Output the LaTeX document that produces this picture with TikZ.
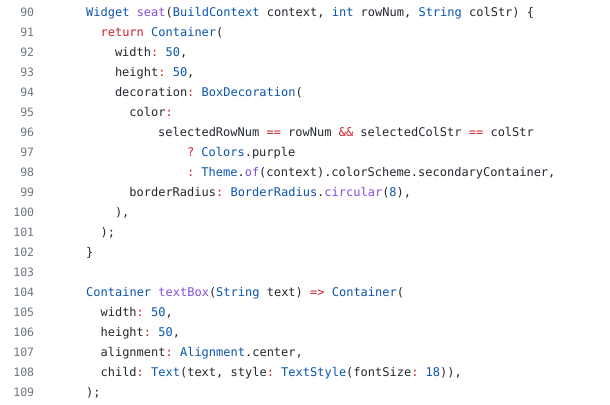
\documentclass[tikz,border=0pt]{standalone}
\usepackage{fontspec}
\newfontfamily\codefont{DejaVu Sans Mono}
\definecolor{codetext}{HTML}{24292F}
\definecolor{codegray}{HTML}{6E7781}
\definecolor{codeblue}{HTML}{0B55B0}
\definecolor{codered}{HTML}{CF222E}
\definecolor{codepurple}{HTML}{8250DF}
\newcommand{\ty}[1]{\textcolor{codeblue}{#1}}
\newcommand{\kw}[1]{\textcolor{codered}{#1}}
\newcommand{\op}[1]{\textcolor{codered}{#1}}
\newcommand{\fn}[1]{\textcolor{codepurple}{#1}}
\tikzset{
	code/.style={anchor=base west,inner sep=0pt,text=codetext,
		font=\codefont\fontsize{12}{14}\selectfont\frenchspacing},
	lnum/.style={anchor=base east,inner sep=0pt,text=codegray,
		font=\codefont\fontsize{11.5}{14}\selectfont}
}
\begin{document}
\begin{tikzpicture}[x=1pt,y=-1pt]
	\useasboundingbox[fill=white] (0,0) rectangle (610,404);
	\foreach \n in {90,...,109}
	\node[lnum] (n\n) at (34.3,{16.3+20*(\n-90)}) {\n};

	\node[code] (l90) at (86,16.3) {\ty{Widget} \fn{seat}(\ty{BuildContext} context, \ty{int} rowNum, \ty{String} colStr) \{};
	\node[code] (l91) at (100.4,36.3) {\kw{return} \ty{Container}(};
	\node[code] (l92) at (114.8,56.3) {width\op{:} \ty{50},};
	\node[code] (l93) at (114.8,76.3) {height\op{:} \ty{50},};
	\node[code] (l94) at (114.8,96.3) {decoration\op{:} \ty{BoxDecoration}(};
	\node[code] (l95) at (129.2,116.3) {color\op{:}};
	\node[code] (l96) at (158,136.3) {selectedRowNum \op{==} rowNum \op{\&\&} selectedColStr \op{==} colStr};
	\node[code] (l97) at (186.8,156.3) {\op{?} \ty{Colors}.purple};
	\node[code] (l98) at (186.8,176.3) {\op{:} \ty{Theme}.\fn{of}(context).colorScheme.secondaryContainer,};
	\node[code] (l99) at (129.2,196.3) {borderRadius\op{:} \ty{BorderRadius}.\fn{circular}(\ty{8}),};
	\node[code] (l100) at (114.8,216.3) {),};
	\node[code] (l101) at (100.4,236.3) {);};
	\node[code] (l102) at (86,256.3) {\}};

	\node[code] (l104) at (86,296.3) {\ty{Container} \fn{textBox}(\ty{String} text) \op{=>} \ty{Container}(};
	\node[code] (l105) at (100.4,316.3) {width\op{:} \ty{50},};
	\node[code] (l106) at (100.4,336.3) {height\op{:} \ty{50},};
	\node[code] (l107) at (100.4,356.3) {alignment\op{:} \ty{Alignment}.center,};
	\node[code] (l108) at (100.4,376.3) {child\op{:} \ty{Text}(text, style\op{:} \ty{TextStyle}(fontSize\op{:} \ty{18})),};
	\node[code] (l109) at (86,396.3) {);};
\end{tikzpicture}
\end{document}
